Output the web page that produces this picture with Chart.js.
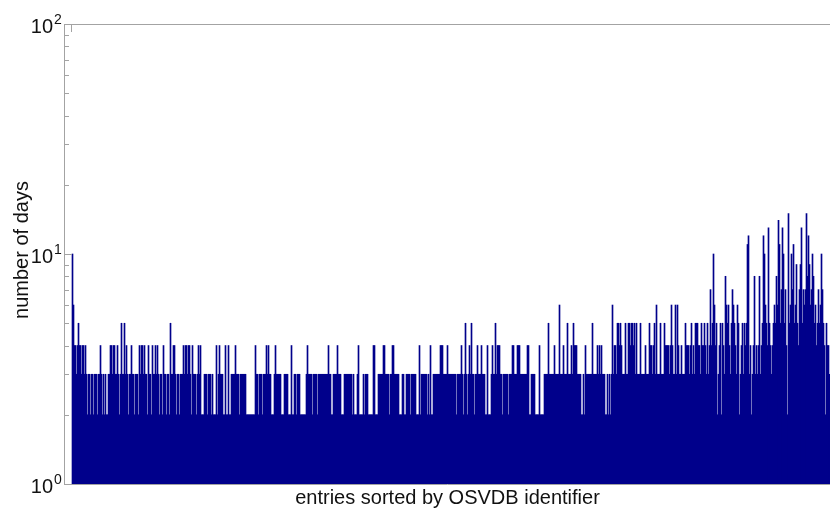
<!DOCTYPE html>
<html>
<head>
<meta charset="utf-8">
<script src="https://cdn.jsdelivr.net/npm/chart.js@4.4.1/dist/chart.umd.min.js"></script>
<style>
  html, body { margin: 0; padding: 0; background: #fff; }
  #wrap { width: 830px; height: 515px; }
</style>
</head>
<body>
<div id="wrap"><canvas id="chart"></canvas></div>
<script>
// number of days per entry, one hex digit per entry, read left to right off the plot
const daysPart1 = 'a644345443' + '4434323323' + '3233323343' + '2323223344' + '3443343235' + '3353432334' +
                  '3323332434' + '4343324332' + '4334343233' + '2433233253' + '3443233233' + '3434434432' + '43';
const daysPart2 = '3323434222' + '3332333232' + '2242343332' + '2422422333' + '3433323333' + '3322222222' +
                  '2433233323' + '3343433222' + '3433333222' + '3333222422' + '3323332222' + '2234333323' + '33323333';
const daysPart3 = '3333334332' + '2333343332' + '2233333333' + '2322234222' + '2323332222' + '2442223333' +
                  '3443333233' + '4433333222' + '3322333323' + '3333222423' + '3333323242' + '2333333344' + '43333433';
const daysPart4 = '3333332333' + '3432353234' + '3533233433' + '3433322422' + '2343353444' + '3323333323' +
                  '3344333444' + '3333333442' + '2333322224' + '2222333353' + '3333433336' + '3334333533' + '34354443';
const daysPart5 = '3332232433' + '3333533334' + '3434333223' + '2323634435' + '5454333533' + '5545545353' +
                  '3353333433' + '3544345363' + '3353335444' + '4346433636' + '4334333544' + '4345343555' + '44354454';
const daysPart6 = '3534745a64' + '5234525438' + '6564357654' + '3652345354' + '5bc3423483' + '4348345ca6' +
                  '54d5434565' + '86eb57da57' + '42f56a7b56' + '95479d5767' + 'f8c967a856' + '45756a7542' + '5443';

const days = (daysPart1 + daysPart2 + daysPart3 + daysPart4 + daysPart5 + daysPart6)
  .split('').map(c => parseInt(c, 16));

const yMajorTicks = [1, 10, 100];
const yTickExponents = ['0', '1', '2'];
const yMinorTicks = [2, 3, 4, 5, 6, 7, 8, 9, 20, 30, 40, 50, 60, 70, 80, 90];
const xTitle = 'entries sorted by OSVDB identifier';
const yTitle = 'number of days';

const axisColor = '#a3a3a3';
const textColor = '#111';
const fontFamily = '"Liberation Sans", Arial, sans-serif';

const axesPlugin = {
  id: 'matlabAxes',
  beforeDatasetsDraw(chart) {
    const { ctx, chartArea: a } = chart;
    ctx.save();
    ctx.strokeStyle = axisColor;
    ctx.lineWidth = 1;
    ctx.beginPath();
    ctx.moveTo(a.left, a.bottom + 0.5);
    ctx.lineTo(a.right, a.bottom + 0.5);
    ctx.stroke();
    ctx.restore();
  },
  afterDatasetsDraw(chart) {
    const { ctx, chartArea: a, scales } = chart;
    const y = scales.y, x = scales.x;
    ctx.save();
    ctx.strokeStyle = axisColor;
    ctx.lineWidth = 1;
    ctx.beginPath();
    ctx.moveTo(a.left - 0.5, a.top);
    ctx.lineTo(a.left - 0.5, a.bottom + 1);
    ctx.moveTo(a.left - 1, a.top + 0.5);
    ctx.lineTo(a.right, a.top + 0.5);
    yMinorTicks.forEach(v => {
      const py = Math.round(y.getPixelForValue(v)) + 0.5;
      ctx.moveTo(a.left, py);
      ctx.lineTo(a.left + 4, py);
    });
    yMajorTicks.forEach(v => {
      const py = Math.round(y.getPixelForValue(v)) + 0.5;
      ctx.moveTo(a.left, py);
      ctx.lineTo(a.left + 7, py);
    });
    const tx = Math.round(x.getPixelForValue(0)) - 1.5;
    ctx.moveTo(tx, a.top);
    ctx.lineTo(tx, a.top + 8);
    ctx.stroke();

    ctx.fillStyle = textColor;
    yMajorTicks.forEach((v, i) => {
      const py = y.getPixelForValue(v);
      ctx.font = '20px ' + fontFamily;
      ctx.textAlign = 'right';
      ctx.textBaseline = 'alphabetic';
      ctx.fillText('10', a.left - 12, py + 9);
      ctx.font = '14px ' + fontFamily;
      ctx.textAlign = 'left';
      ctx.fillText(yTickExponents[i], a.left - 11, py);
    });

    ctx.font = '20px ' + fontFamily;
    ctx.textAlign = 'center';
    ctx.textBaseline = 'alphabetic';
    ctx.fillText(xTitle, (a.left + a.right) / 2, a.bottom + 20);

    ctx.translate(28, (a.top + a.bottom) / 2 - 4);
    ctx.rotate(-Math.PI / 2);
    ctx.fillText(yTitle, 0, 0);
    ctx.restore();
  }
};

new Chart(document.getElementById('chart'), {
  type: 'bar',
  data: {
    datasets: [{
      label: yTitle,
      data: days.map((v, i) => ({ x: i, y: v })),
      backgroundColor: '#00008b',
      borderWidth: 0,
      barPercentage: 1,
      categoryPercentage: 1,
    }]
  },
  options: {
    responsive: true,
    maintainAspectRatio: false,
    animation: false,
    devicePixelRatio: 1,
    layout: { padding: { top: 24, left: 0, right: 0, bottom: 0 } },
    plugins: {
      legend: { display: false },
      tooltip: { enabled: false }
    },
    scales: {
      x: {
        type: 'linear',
        offset: false,
        min: -7.5,
        max: days.length - 0.5,
        ticks: { display: false },
        grid: { display: false, offset: false },
        border: { display: false },
        afterFit: s => { s.height = 31; }
      },
      y: {
        type: 'logarithmic',
        min: 1,
        max: 100,
        ticks: { display: false },
        grid: { display: false },
        border: { display: false },
        afterFit: s => { s.width = 65; }
      }
    }
  },
  plugins: [axesPlugin]
});
</script>
</body>
</html>
